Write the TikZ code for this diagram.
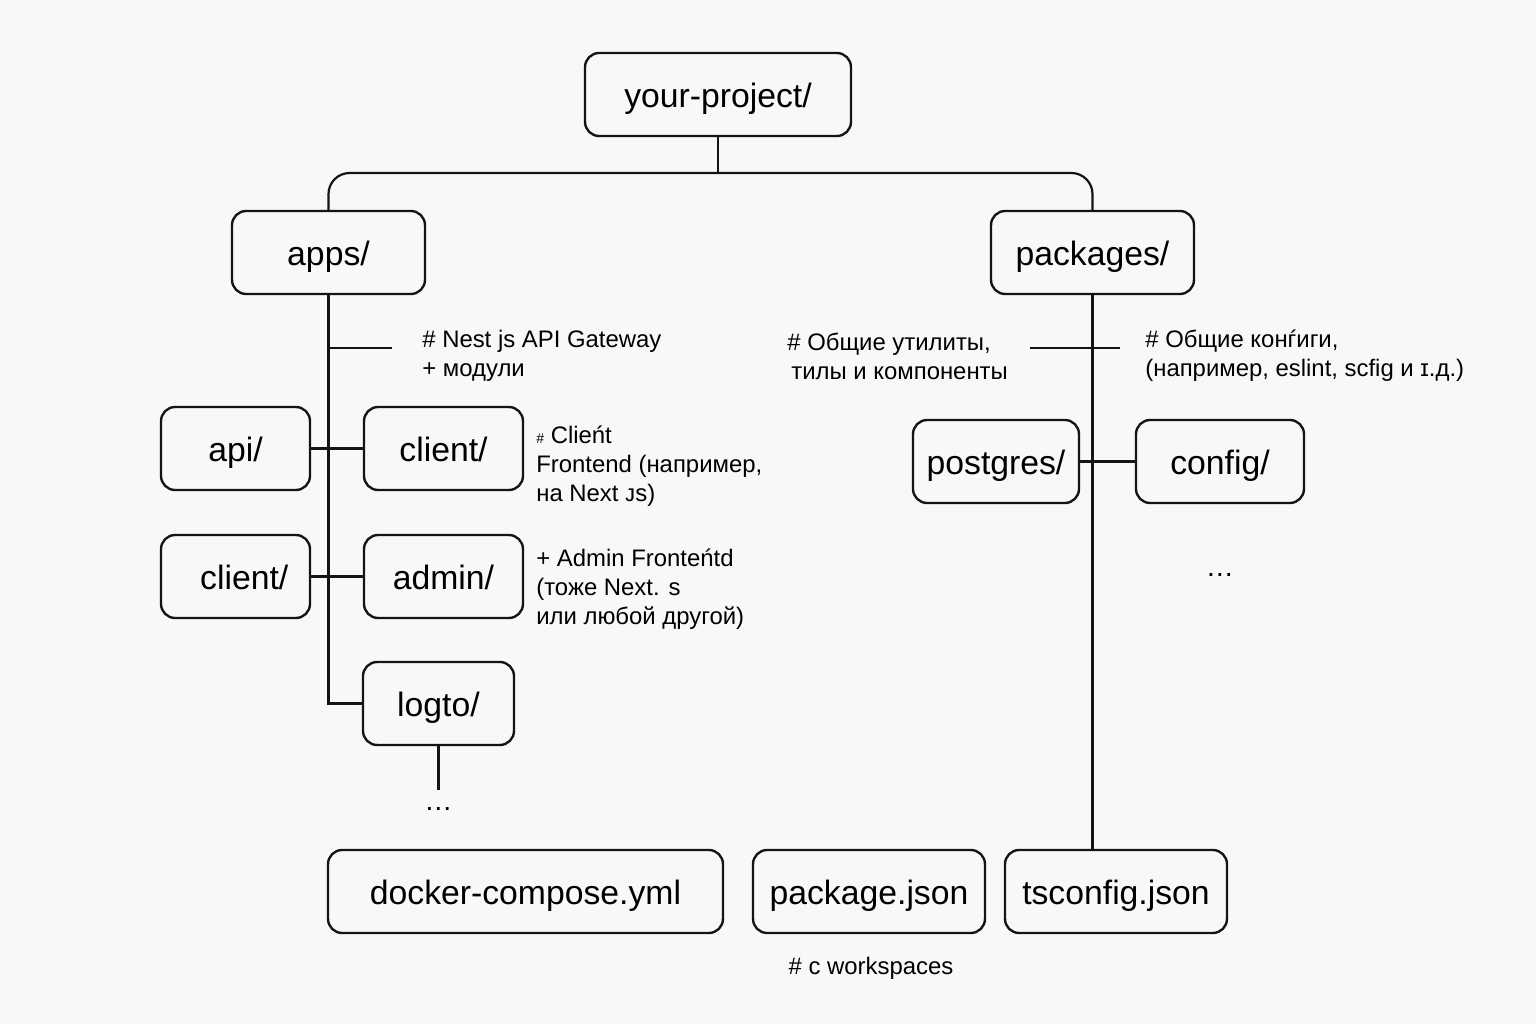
\documentclass[tikz,border=0pt]{standalone}
\usepackage{fontspec}
\setmainfont{Liberation Sans}
\usetikzlibrary{positioning}
\definecolor{paper}{RGB}{248,248,248}
\definecolor{ink}{RGB}{20,20,20}

\begin{document}
\begin{tikzpicture}[x=0.02cm,y=-0.02cm,
	dir/.style={draw=ink,line width=1.35pt,rounded corners=8,minimum height=1.66cm,inner sep=0pt,text height=15pt,text depth=0pt,font=\fontsize{19.2}{23}\selectfont},
	note/.style={anchor=west,align=left,inner sep=0pt,font=\fontsize{13.6}{16.4}\selectfont},
	dots/.style={anchor=base,inner sep=0pt,font=\fontsize{16}{16}\selectfont},
	link/.style={draw=ink,line width=1.25pt}]
	\fill[paper] (0,0) rectangle (1536,1024);
	\useasboundingbox (0,0) rectangle (1536,1024);

	% directories
	\node[dir,minimum width=5.32cm] (root) at (718,94.5) {your-project/};
	\node[dir,minimum width=3.86cm] (apps) at (328.5,252.5) {apps/};
	\node[dir,minimum width=4.06cm] (packages) at (1092.5,252.5) {packages/};
	\node[dir,minimum width=2.98cm] (api) at (235.5,448.5) {api/};
	\node[dir,minimum width=3.18cm] (client) at (443.5,448.5) {client/};
	\node[dir,minimum width=2.98cm] (clientl) at (235.5,576.5) {\hspace{10pt}client/};
	\node[dir,minimum width=3.18cm] (admin) at (443.5,576.5) {admin/};
	\node[dir,minimum width=3.02cm] (logto) at (438.5,703.5) {logto/};
	\node[dir,minimum width=3.32cm] (postgres) at (996,461.5) {postgres/};
	\node[dir,minimum width=3.36cm] (config) at (1220,461.5) {config/};
	\node[dir,minimum width=7.9cm] (compose) at (525.5,891.5) {docker-compose.yml};
	\node[dir,minimum width=4.64cm] (pkgjson) at (869,891.5) {package.json};
	\node[dir,minimum width=4.44cm] (tsconfig) at (1116,891.5) {tsconfig.json};

	\coordinate (split) at (718,173);
	\coordinate (appstick) at (392,348);
	\coordinate (pkgl) at (1030,348);
	\coordinate (pkgr) at (1120,348);
	\coordinate (logtoend) at (438.5,790);
	\node[dots] (appsdots) at (438.5,810) {…};
	\node[dots] (pkgdots) at (1220,576) {…};

	% tree
	\draw[link] (root) -- (split);
	\draw[link,rounded corners=12] (apps.north) |- (split) -| (packages.north);
	\draw[link] (apps.south) |- (logto.west);
	\draw[link] (apps.south |- appstick) -- (appstick);
	\draw[link] (api) -- (client);
	\draw[link] (clientl) -- (admin);
	\draw[link] (logto) -- (logtoend);
	\draw[link] (packages.south) -- (packages.south |- tsconfig.north);
	\draw[link] (pkgl) -- (pkgr);
	\draw[link] (postgres) -- (config);

	% comments
	\node[note] (appsnote) at (422,356) {\# Nest js API Gateway\\+ модули};
	\node[note] (utilnote) at (787,356) {\# Общие утилиты,\\\,тилы и компоненты};
	\node[note] (confnote) at (1145,356) {\# Общие конѓиги,\\(например, eslint, scfig и ɪ.д.)};
	\node[note] (clientnote) at (536,466) {{\fontsize{8}{8}\selectfont\#} Clieńt\\Frontend (например,\\на Next ᴊs)};
	\node[note] (adminnote) at (536,589) {+ Admin Fronteńtd\\(тоже Next. s\\или любой другой)};
	\node[note,anchor=center] (wsnote) at (871,968) {\# с workspaces};
\end{tikzpicture}
\end{document}
